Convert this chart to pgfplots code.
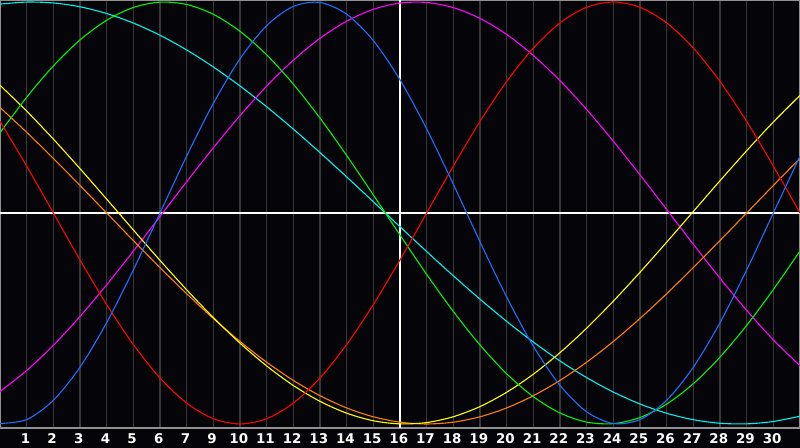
\documentclass[border=0pt]{standalone}
\usepackage{fontspec}
\setmainfont{DejaVu Sans}
\usepackage{pgfplots}
\usepackage{pgfplotstable}
\pgfplotsset{compat=1.18}

\definecolor{bgblack}{HTML}{050408}
\definecolor{gridgray}{HTML}{383838}
\definecolor{bordergray}{HTML}{909090}
\definecolor{cPhys}{HTML}{1E6EFF}
\definecolor{cEmo}{HTML}{FF0000}
\definecolor{cInt}{HTML}{00F000}
\definecolor{cSpi}{HTML}{00F0F0}
\definecolor{cIntu}{HTML}{FF00FF}
\definecolor{cAes}{HTML}{FFFF00}
\definecolor{cAwa}{HTML}{FF8000}

% day  emo(28)  int(33)  phys(23)  spi(53)  intu(38)  aes(43)  awa(48)
\pgfplotstableread{
p   r        g        b        c        m        yl       o
0   0.4339   0.3805  -0.9977   0.9899  -0.8461   0.6053   0.5000
1   0.2225   0.5486  -0.9791   0.9997  -0.7467   0.4830   0.3827
2   0.0000   0.6969  -0.8879   0.9955  -0.6272   0.3504   0.2588
3  -0.2225   0.8202  -0.7308   0.9773  -0.4904   0.2103   0.1305
4  -0.4339   0.9135  -0.5196   0.9454  -0.3403   0.0657   0.0000
5  -0.6235   0.9740  -0.2698   0.9002  -0.1809  -0.0803  -0.1305
6  -0.7818   0.9993   0.0000   0.8424  -0.0165  -0.2246  -0.2588
7  -0.9010   0.9884   0.2698   0.7727   0.1483  -0.3640  -0.3827
8  -0.9749   0.9418   0.5196   0.6921   0.3090  -0.4958  -0.5000
9  -1.0000   0.8611   0.7308   0.6020   0.4613  -0.6168  -0.6088
10 -0.9749   0.7496   0.8879   0.5034   0.6011  -0.7248  -0.7071
11 -0.9010   0.6108   0.9791   0.3977   0.7242  -0.8176  -0.7934
12 -0.7818   0.4498   0.9977   0.2864   0.8279  -0.8927  -0.8660
13 -0.6235   0.2726   0.9423   0.1711   0.9090  -0.9488  -0.9239
14 -0.4339   0.0856   0.8170   0.0533   0.9652  -0.9847  -0.9659
15 -0.2225  -0.1045   0.6311  -0.0652   0.9951  -0.9996  -0.9914
16  0.0000  -0.2908   0.3984  -0.1827   0.9978  -0.9932  -1.0000
17  0.2225  -0.4667   0.1362  -0.2977   0.9733  -0.9656  -0.9914
18  0.4339  -0.6255  -0.1362  -0.4085   0.9223  -0.9175  -0.9659
19  0.6235  -0.7620  -0.3984  -0.5136   0.8462  -0.8497  -0.9239
20  0.7818  -0.8708  -0.6311  -0.6117   0.7468  -0.7640  -0.8660
21  0.9010  -0.9480  -0.8170  -0.7012   0.6272  -0.6619  -0.7934
22  0.9749  -0.9911  -0.9423  -0.7803   0.4904  -0.5458  -0.7071
23  1.0000  -0.9984  -0.9977  -0.8487   0.3403  -0.4178  -0.6088
24  0.9749  -0.9695  -0.9791  -0.9053   0.1809  -0.2811  -0.5000
25  0.9010  -0.9057  -0.8879  -0.9492   0.0165  -0.1384  -0.3827
26  0.7818  -0.8090  -0.7308  -0.9798  -0.1483   0.0073  -0.2588
27  0.6235  -0.6831  -0.5196  -0.9966  -0.3090   0.1528  -0.1305
28  0.4339  -0.5327  -0.2698  -0.9994  -0.4613   0.2951   0.0000
29  0.2225  -0.3628   0.0000  -0.9881  -0.6011   0.4311   0.1305
30  0.0000  -0.1799   0.2698  -0.9630  -0.7242   0.5577   0.2588
}\biodata

\begin{document}
\begin{tikzpicture}
\fill[bgblack] (0,-10pt) rectangle (400pt,214pt);
\begin{axis}[
    at={(0,0)}, anchor=south west,
    scale only axis,
    width=400pt, height=214pt,
    xmin=0, xmax=30,
    ymin=-1.019, ymax=1.0095,
    axis background/.style={fill=bgblack},
    axis line style={bordergray, line width=0.6pt},
    xtick={1,...,29},
    xticklabels={1,2,3,4,5,6,7,9,10,11,12,13,14,15,16,17,18,19,20,21,22,23,24,25,26,27,28,29,30},
    ytick=\empty,
    major tick length=0pt,
    xmajorgrids,
    grid style={gridgray, line width=0.6pt},
    /pgf/number format/assume math mode=true,
    xticklabel style={anchor=center, yshift=-5.5pt, xshift=-0.6pt, inner sep=0pt,
        text=white, font=\fontsize{6.7}{7}\selectfont\bfseries},
    clip=true,
    every axis plot/.append style={line width=0.55pt, smooth, no markers},
]
\addplot[white, line width=0.7pt] coordinates {(0,0) (30,0)};
\addplot[white, line width=0.7pt] coordinates {(15,-1.019) (15,1.0095)};
\addplot[cSpi]  table[x=p, y=c]  {\biodata};
\addplot[cIntu] table[x=p, y=m]  {\biodata};
\addplot[cAwa]  table[x=p, y=o]  {\biodata};
\addplot[cAes]  table[x=p, y=yl] {\biodata};
\addplot[cInt]  table[x=p, y=g]  {\biodata};
\addplot[cEmo]  table[x=p, y=r]  {\biodata};
\addplot[cPhys] table[x=p, y=b]  {\biodata};
\end{axis}
\pgfresetboundingbox
\path (0,-10pt) rectangle (400pt,214pt);
\end{tikzpicture}
\end{document}
